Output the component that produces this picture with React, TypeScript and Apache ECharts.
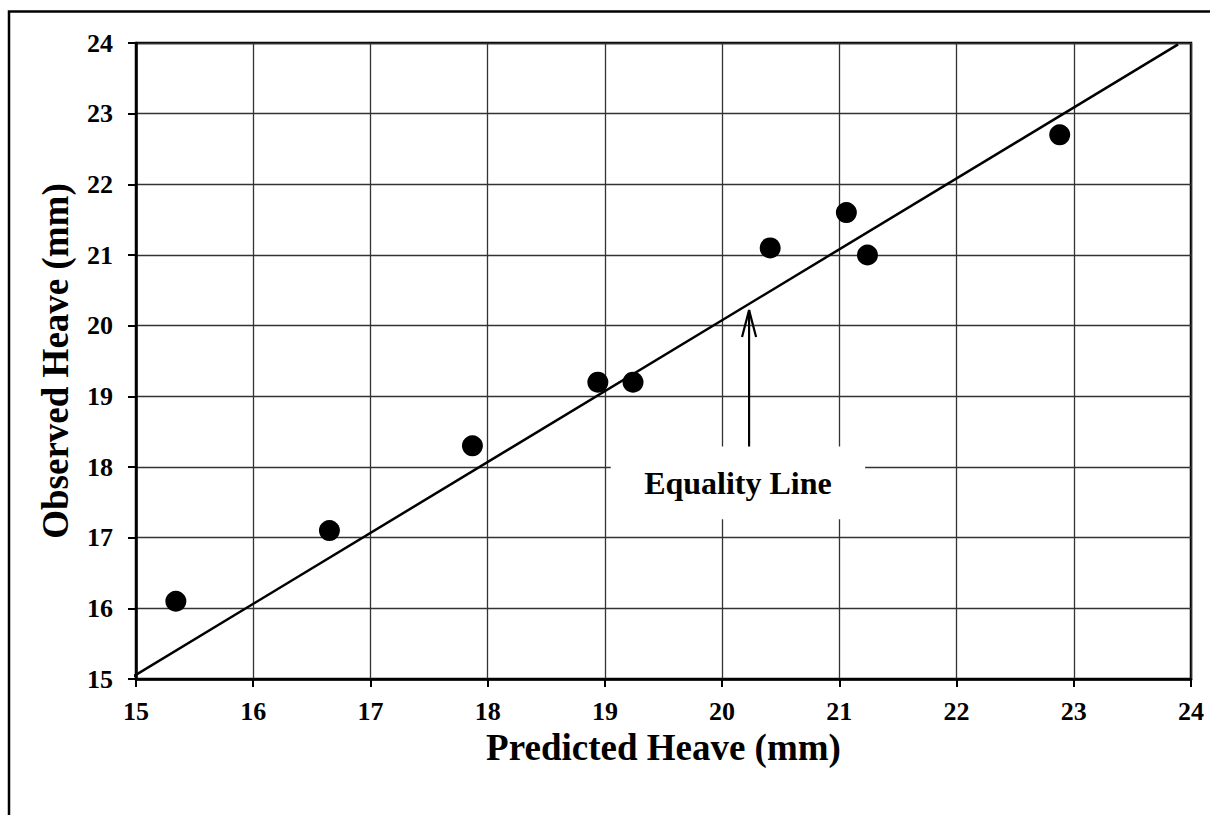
import React, { useEffect, useRef } from "react";
import * as echarts from "echarts";

const predicted = [15.34, 16.65, 17.87, 18.94, 19.24, 20.41, 21.06, 21.24, 22.88];
const observed = [16.1, 17.1, 18.3, 19.2, 19.2, 21.1, 21.6, 21.0, 22.7];
const equalityLineX = [14.91, 23.89];
const equalityLineY = [14.97, 23.98];
const arrowX = [20.23, 20.23];
const arrowY = [18.29, 20.22];
const arrowHeadX = [20.17, 20.23, 20.29];
const arrowHeadY = [19.84, 20.22, 19.84];
const labelBoxX = [19.05, 21.22];
const labelBoxY = [18.29, 17.26];
const axisMin = 15;
const axisMax = 24;
const xTitle = "Predicted Heave (mm)";
const yTitle = "Observed Heave (mm)";
const annotation = "Equality Line";

const FONT = "Liberation Serif";

export default function App() {
  const ref = useRef<HTMLDivElement>(null);
  useEffect(() => {
    if (!ref.current) return;
    const chart = echarts.init(ref.current, undefined, { renderer: "svg" });
    const nameStyle = {
      fontFamily: FONT,
      fontWeight: "bold",
      fontSize: 37,
      color: "#000",
      verticalAlign: "middle",
    };
    const axisLine = { show: true, lineStyle: { color: "#000", width: 2.5 } };
    const axisTick = { show: true, length: 8, lineStyle: { color: "#000", width: 2 } };
    const splitLine = { show: true, lineStyle: { color: "#333", width: 1.3 } };
    const tickLabel = {
      show: true,
      fontFamily: FONT,
      fontWeight: "bold",
      fontSize: 26,
      color: "#000",
    };
    chart.setOption({
      animation: false,
      backgroundColor: "#fff",
      textStyle: { fontFamily: FONT, fontWeight: "bold", fontSize: 26, color: "#000" },
      grid: {
        left: 136,
        top: 43,
        right: 19,
        bottom: 136,
        show: true,
        borderColor: "#000",
        borderWidth: 2.5,
        backgroundColor: "transparent",
      },
      graphic: [
        {
          type: "polyline",
          shape: { points: [[9, 830], [9, 11.5], [1230, 11.5]] },
          style: { stroke: "#000", lineWidth: 2.5, fill: "none" },
          silent: true,
        },
      ],
      xAxis: {
        type: "value",
        min: axisMin,
        max: axisMax,
        interval: 1,
        name: xTitle,
        nameLocation: "middle",
        nameGap: 66,
        nameTextStyle: nameStyle,
        axisLine,
        axisTick,
        splitLine,
        axisLabel: { ...tickLabel, margin: 19 },
      },
      yAxis: {
        type: "value",
        min: axisMin,
        max: axisMax,
        interval: 1,
        name: yTitle,
        nameLocation: "middle",
        nameGap: 81,
        nameRotate: 90,
        nameTextStyle: nameStyle,
        axisLine,
        axisTick,
        splitLine,
        axisLabel: { ...tickLabel, margin: 23 },
      },
      series: [
        {
          type: "line",
          data: equalityLineX.map((x, i) => [x, equalityLineY[i]]),
          showSymbol: false,
          clip: false,
          lineStyle: { color: "#000", width: 2.5 },
          markArea: {
            silent: true,
            itemStyle: { color: "#fff", opacity: 1 },
            label: {
              show: true,
              position: "inside",
              formatter: annotation,
              fontFamily: FONT,
              fontWeight: "bold",
              fontSize: 32,
              color: "#000",
            },
            data: [[{ coord: [labelBoxX[0], labelBoxY[0]] }, { coord: [labelBoxX[1], labelBoxY[1]] }]],
          },
          z: 3,
        },
        {
          type: "line",
          data: arrowX.map((x, i) => [x, arrowY[i]]),
          showSymbol: false,
          lineStyle: { color: "#000", width: 2.2 },
          z: 4,
        },
        {
          type: "line",
          data: arrowHeadX.map((x, i) => [x, arrowHeadY[i]]),
          showSymbol: false,
          lineStyle: { color: "#000", width: 2.2 },
          z: 4,
        },
        {
          type: "scatter",
          data: predicted.map((x, i) => [x, observed[i]]),
          symbol: "circle",
          symbolSize: 21,
          itemStyle: { color: "#000", opacity: 1 },
          z: 5,
        },
      ],
    });
    return () => chart.dispose();
  }, []);
  return (
    <div
      ref={ref}
      style={{ position: "fixed", left: 0, top: 0, width: 1210, height: 815 }}
    />
  );
}
